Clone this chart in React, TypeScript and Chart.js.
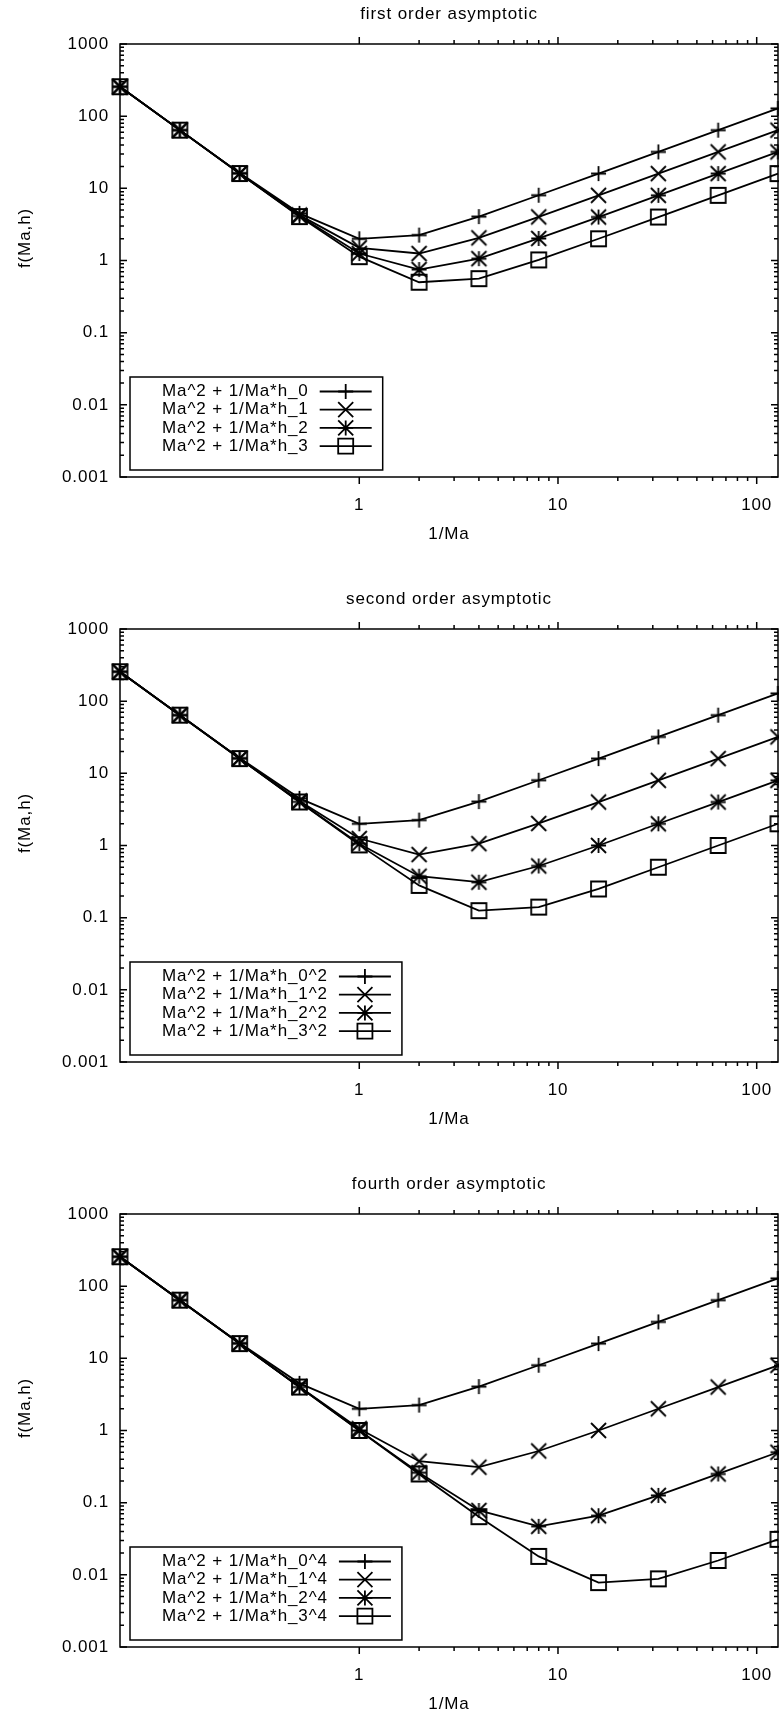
import React, { useEffect, useRef } from 'react';
import { Chart, registerables } from 'chart.js';

Chart.register(...registerables);

// ---- data ----
const xValues = [0.0625, 0.125, 0.25, 0.5, 1, 2, 4, 8, 16, 32, 64, 128];

const first_h0 = [256.06, 64.13, 16.25, 4.5, 2.0, 2.25, 4.06, 8.02, 16.0, 32.0, 64.0, 128.0];
const first_h1 = [256.03, 64.06, 16.13, 4.25, 1.5, 1.25, 2.06, 4.02, 8.0, 16.0, 32.0, 64.0];
const first_h2 = [256.02, 64.03, 16.06, 4.13, 1.25, 0.75, 1.06, 2.02, 4.0, 8.0, 16.0, 32.0];
const first_h3 = [256.01, 64.02, 16.03, 4.06, 1.13, 0.5, 0.56, 1.02, 2.0, 4.0, 8.0, 16.0];

const second_h0 = [256.06, 64.13, 16.25, 4.5, 2.0, 2.25, 4.06, 8.02, 16.0, 32.0, 64.0, 128.0];
const second_h1 = [256.02, 64.03, 16.06, 4.13, 1.25, 0.75, 1.06, 2.02, 4.0, 8.0, 16.0, 32.0];
const second_h2 = [256.0, 64.01, 16.02, 4.03, 1.06, 0.375, 0.31, 0.52, 1.0, 2.0, 4.0, 8.0];
const second_h3 = [256.0, 64.0, 16.0, 4.01, 1.02, 0.28, 0.125, 0.14, 0.25, 0.5, 1.0, 2.0];

const fourth_h0 = [256.06, 64.13, 16.25, 4.5, 2.0, 2.25, 4.06, 8.02, 16.0, 32.0, 64.0, 128.0];
const fourth_h1 = [256.0, 64.01, 16.02, 4.03, 1.06, 0.375, 0.31, 0.52, 1.0, 2.0, 4.0, 8.0];
const fourth_h2 = [256.0, 64.0, 16.0, 4.0, 1.0, 0.26, 0.078, 0.047, 0.066, 0.126, 0.25, 0.5];
const fourth_h3 = [256.0, 64.0, 16.0, 4.0, 1.0, 0.25, 0.064, 0.018, 0.0078, 0.0088, 0.0158, 0.031];

const plotTitles = ['first order asymptotic', 'second order asymptotic', 'fourth order asymptotic'];
const firstLabels = ['Ma^2 + 1/Ma*h_0', 'Ma^2 + 1/Ma*h_1', 'Ma^2 + 1/Ma*h_2', 'Ma^2 + 1/Ma*h_3'];
const secondLabels = ['Ma^2 + 1/Ma*h_0^2', 'Ma^2 + 1/Ma*h_1^2', 'Ma^2 + 1/Ma*h_2^2', 'Ma^2 + 1/Ma*h_3^2'];
const fourthLabels = ['Ma^2 + 1/Ma*h_0^4', 'Ma^2 + 1/Ma*h_1^4', 'Ma^2 + 1/Ma*h_2^4', 'Ma^2 + 1/Ma*h_3^4'];

const xAxisTitle = '1/Ma';
const yAxisTitle = 'f(Ma,h)';

const xTickValues = [1, 10, 100];
const xTickLabels = ['1', '10', '100'];
const xMinorTicks = [2, 3, 4, 5, 6, 7, 8, 9, 20, 30, 40, 50, 60, 70, 80, 90];
const yTickValues = [0.001, 0.01, 0.1, 1, 10, 100, 1000];
const yTickLabels = ['0.001', '0.01', '0.1', '1', '10', '100', '1000'];
const yMinorTicks = [
  0.002, 0.003, 0.004, 0.005, 0.006, 0.007, 0.008, 0.009,
  0.02, 0.03, 0.04, 0.05, 0.06, 0.07, 0.08, 0.09,
  0.2, 0.3, 0.4, 0.5, 0.6, 0.7, 0.8, 0.9,
  2, 3, 4, 5, 6, 7, 8, 9,
  20, 30, 40, 50, 60, 70, 80, 90,
  200, 300, 400, 500, 600, 700, 800, 900,
];

const markerKinds = ['plus', 'x', 'star', 'box'];

const plotSeries = [
  [first_h0, first_h1, first_h2, first_h3],
  [second_h0, second_h1, second_h2, second_h3],
  [fourth_h0, fourth_h1, fourth_h2, fourth_h3],
];
const plotLabels = [firstLabels, secondLabels, fourthLabels];

// ---- style ----
const FONT = '"Liberation Sans", Arial, Helvetica, sans-serif';
const FONT_SIZE = 17;
const LETTER_SPACING = '0.9px';
const BLOCK_W = 779;
const BLOCK_H = 585;
const MARK = 7.5;
const LW = 1.8;
const BORDER_LW = 1.5;

function drawMarker(ctx: CanvasRenderingContext2D, kind: string, cx: number, cy: number, s: number) {
  ctx.beginPath();
  if (kind === 'plus' || kind === 'star') {
    ctx.moveTo(cx - s, cy);
    ctx.lineTo(cx + s, cy);
    ctx.moveTo(cx, cy - s);
    ctx.lineTo(cx, cy + s);
  }
  if (kind === 'x' || kind === 'star') {
    ctx.moveTo(cx - s, cy - s);
    ctx.lineTo(cx + s, cy + s);
    ctx.moveTo(cx - s, cy + s);
    ctx.lineTo(cx + s, cy - s);
  }
  if (kind === 'box') {
    ctx.rect(cx - s, cy - s, 2 * s, 2 * s);
  }
  ctx.stroke();
}

function makeMarkerCanvas(kind: string) {
  const size = Math.ceil(2 * MARK + 4);
  const c = document.createElement('canvas');
  c.width = size;
  c.height = size;
  const ctx = c.getContext('2d')!;
  ctx.strokeStyle = '#000';
  ctx.lineWidth = LW;
  drawMarker(ctx, kind, size / 2, size / 2, MARK);
  return c;
}

function setSpacing(chart: any) {
  try {
    (chart.ctx as any).letterSpacing = LETTER_SPACING;
  } catch (e) {
    /* ignore */
  }
}

function zeroPadding(s: any) {
  s.paddingLeft = 0;
  s.paddingRight = 0;
  s.paddingTop = 0;
  s.paddingBottom = 0;
}

function makeFramePlugin(title: string, labels: string[]) {
  return {
    id: 'gnuframe',
    beforeUpdate(chart: any) {
      setSpacing(chart);
    },
    beforeLayout(chart: any) {
      setSpacing(chart);
    },
    beforeDraw(chart: any) {
      setSpacing(chart);
    },
    afterDraw(chart: any) {
      const { ctx, chartArea: a, scales } = chart;
      const xs = scales.x;
      const ys = scales.y;
      ctx.save();
      ctx.letterSpacing = LETTER_SPACING;
      ctx.strokeStyle = '#000';
      ctx.lineWidth = BORDER_LW;
      ctx.strokeRect(a.left, a.top, a.right - a.left, a.bottom - a.top);

      ctx.beginPath();
      const xt = (v: number, len: number) => {
        const px = xs.getPixelForValue(v);
        ctx.moveTo(px, a.bottom);
        ctx.lineTo(px, a.bottom + len);
        ctx.moveTo(px, a.top);
        ctx.lineTo(px, a.top - len);
      };
      const yt = (v: number, len: number) => {
        const py = ys.getPixelForValue(v);
        ctx.moveTo(a.left, py);
        ctx.lineTo(a.left + len, py);
        ctx.moveTo(a.right, py);
        ctx.lineTo(a.right - len, py);
      };
      xTickValues.forEach((v) => xt(v, 7));
      xMinorTicks.forEach((v) => xt(v, 4));
      yTickValues.forEach((v) => yt(v, 7));
      yMinorTicks.forEach((v) => yt(v, 4));
      ctx.stroke();

      ctx.fillStyle = '#000';
      ctx.font = `${FONT_SIZE}px ${FONT}`;
      ctx.textAlign = 'center';
      ctx.textBaseline = 'middle';
      const cx = (a.left + a.right) / 2;
      ctx.fillText(title, cx, 14);
      ctx.fillText(xAxisTitle, cx, 534);
      ctx.save();
      ctx.translate(25, 238);
      ctx.rotate(-Math.PI / 2);
      ctx.fillText(yAxisTitle, 0, 0);
      ctx.restore();

      // legend (gnuplot style key)
      let maxW = 0;
      labels.forEach((l) => {
        maxW = Math.max(maxW, ctx.measureText(l).width);
      });
      const boxLeft = 130;
      const boxTop = 377;
      const padLeft = 32;
      const gap = 11;
      const sample = 52;
      const boxW = padLeft + maxW + gap + sample + gap;
      const boxH = 93;
      ctx.lineWidth = BORDER_LW;
      ctx.strokeRect(boxLeft, boxTop, boxW, boxH);
      const textRight = boxLeft + padLeft + maxW;
      ctx.textAlign = 'right';
      ctx.lineWidth = LW;
      labels.forEach((l, i) => {
        const y = 391.5 + i * 18.2;
        ctx.fillText(l, textRight, y);
        ctx.beginPath();
        ctx.moveTo(textRight + gap, y);
        ctx.lineTo(textRight + gap + sample, y);
        ctx.stroke();
        drawMarker(ctx, markerKinds[i], textRight + gap + sample / 2, y, MARK);
      });
      ctx.restore();
    },
  };
}

function buildConfig(idx: number): any {
  const series = plotSeries[idx];
  const labels = plotLabels[idx];
  const markers = markerKinds.map((k) => makeMarkerCanvas(k));
  return {
    type: 'line',
    data: {
      datasets: series.map((arr, i) => ({
        label: labels[i],
        data: xValues.map((x, j) => ({ x, y: arr[j] })),
        borderColor: '#000',
        backgroundColor: '#000',
        borderWidth: LW,
        pointStyle: markers[i],
        pointRadius: 8,
        pointHoverRadius: 8,
        fill: false,
        tension: 0,
        clip: false,
      })),
    },
    options: {
      responsive: false,
      animation: false,
      devicePixelRatio: 1,
      events: [],
      layout: { autoPadding: false, padding: { top: 44, right: 1, left: 0, bottom: 0 } },
      plugins: {
        legend: { display: false },
        title: { display: false },
        tooltip: { enabled: false },
      },
      scales: {
        x: {
          type: 'logarithmic',
          position: 'bottom',
          min: 0.0625,
          max: 128,
          grid: { display: false, drawTicks: false },
          border: { display: false },
          ticks: {
            autoSkip: false,
            maxRotation: 0,
            minRotation: 0,
            padding: 18,
            color: '#000',
            font: { family: FONT, size: FONT_SIZE },
            callback: (_v: any, i: number) => xTickLabels[i],
          },
          afterBuildTicks: (s: any) => {
            s.ticks = xTickValues.map((v) => ({ value: v }));
          },
          afterFit: (s: any) => {
            s.height = 108;
            zeroPadding(s);
          },
        },
        y: {
          type: 'logarithmic',
          position: 'left',
          min: 0.001,
          max: 1000,
          grid: { display: false, drawTicks: false },
          border: { display: false },
          ticks: {
            autoSkip: false,
            padding: 11,
            color: '#000',
            font: { family: FONT, size: FONT_SIZE },
            callback: (_v: any, i: number) => yTickLabels[i],
          },
          afterBuildTicks: (s: any) => {
            s.ticks = yTickValues.map((v) => ({ value: v }));
          },
          afterFit: (s: any) => {
            s.width = 120;
            zeroPadding(s);
          },
        },
      },
    },
    plugins: [makeFramePlugin(plotTitles[idx], labels)],
  };
}

function Plot({ idx }: { idx: number }) {
  const ref = useRef<HTMLCanvasElement>(null);
  useEffect(() => {
    if (!ref.current) return;
    const chart = new Chart(ref.current, buildConfig(idx));
    return () => chart.destroy();
  }, [idx]);
  return (
    <canvas
      ref={ref}
      width={BLOCK_W}
      height={BLOCK_H}
      style={{ display: 'block', width: BLOCK_W, height: BLOCK_H }}
    />
  );
}

export default function App() {
  return (
    <div
      style={{
        position: 'absolute',
        left: 0,
        top: 0,
        width: 779,
        height: 1713,
        overflow: 'hidden',
        background: '#fff',
      }}
    >
      {[0, 1, 2].map((i) => (
        <div
          key={i}
          style={{ position: 'absolute', left: 0, top: i * BLOCK_H, width: BLOCK_W, height: BLOCK_H }}
        >
          <Plot idx={i} />
        </div>
      ))}
    </div>
  );
}
